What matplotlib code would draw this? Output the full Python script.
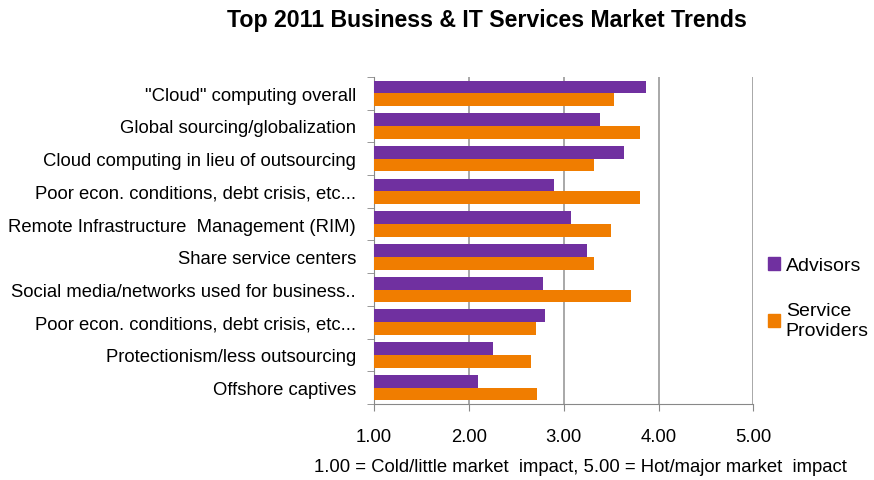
import numpy as np
import matplotlib

matplotlib.use("Agg")
import matplotlib.pyplot as plt
from matplotlib.patches import Patch

plt.rcParams["font.family"] = ["Liberation Sans", "DejaVu Sans"]

categories = [
    '"Cloud" computing overall',
    "Global sourcing/globalization",
    "Cloud computing in lieu of outsourcing",
    "Poor econ. conditions, debt crisis, etc...",
    "Remote Infrastructure  Management (RIM)",
    "Share service centers",
    "Social media/networks used for business..",
    "Poor econ. conditions, debt crisis, etc...",
    "Protectionism/less outsourcing",
    "Offshore captives",
]
advisors = [3.87, 3.38, 3.64, 2.90, 3.08, 3.25, 2.78, 2.80, 2.25, 2.10]
providers = [3.53, 3.80, 3.32, 3.80, 3.50, 3.32, 3.71, 2.71, 2.66, 2.72]
xticks = [1.0, 2.0, 3.0, 4.0, 5.0]

PURPLE = "#7030A0"
ORANGE = "#F07D00"
FS = 13.3

fig = plt.figure(figsize=(8.74, 4.81), dpi=100)
ax = fig.add_axes([0.428, 0.158, 0.434, 0.68])

y = np.arange(len(categories))
h = 0.39
ax.barh(y - h / 2, np.array(advisors) - 1, left=1, height=h, color=PURPLE, zorder=3)
ax.barh(y + h / 2, np.array(providers) - 1, left=1, height=h, color=ORANGE, zorder=3)

ax.set_xlim(1, 5)
ax.set_ylim(len(categories) - 0.5, -0.5)
ax.set_xticks(xticks)
ax.set_xticklabels([f"{v:.2f}" for v in xticks], fontsize=FS)
ax.tick_params(axis="x", length=5, color="#888888", pad=12)
ax.grid(axis="x", color="#9a9a9a", linewidth=1.2, zorder=0)

ax.set_yticks(y)
ax.set_yticklabels(categories, fontsize=FS)
ax.tick_params(axis="y", length=0, pad=13)
ax.set_yticks(np.arange(-0.5, len(categories), 1), minor=True)
ax.tick_params(axis="y", which="minor", length=5, color="#888888")

for side in ["top", "right"]:
    ax.spines[side].set_visible(False)
for side in ["left", "bottom"]:
    ax.spines[side].set_color("#888888")

fig.text(0.664, 0.029, "1.00 = Cold/little market  impact, 5.00 = Hot/major market  impact",
         ha="center", va="center", fontsize=FS)

fig.text(0.557, 0.957, "Top 2011 Business & IT Services Market Trends",
         ha="center", va="center", fontsize=16.7, fontweight="bold")

handles = [Patch(color=PURPLE, label="Advisors"),
           Patch(color=ORANGE, label="Service\nProviders")]
fig.legend(handles=handles, loc="center left", bbox_to_anchor=(0.879, 0.378),
           frameon=False, fontsize=14, handlelength=0.6, handleheight=0.6,
           handletextpad=0.3, labelspacing=1.45, borderpad=0, borderaxespad=0)

plt.savefig("out.png", dpi=100)
